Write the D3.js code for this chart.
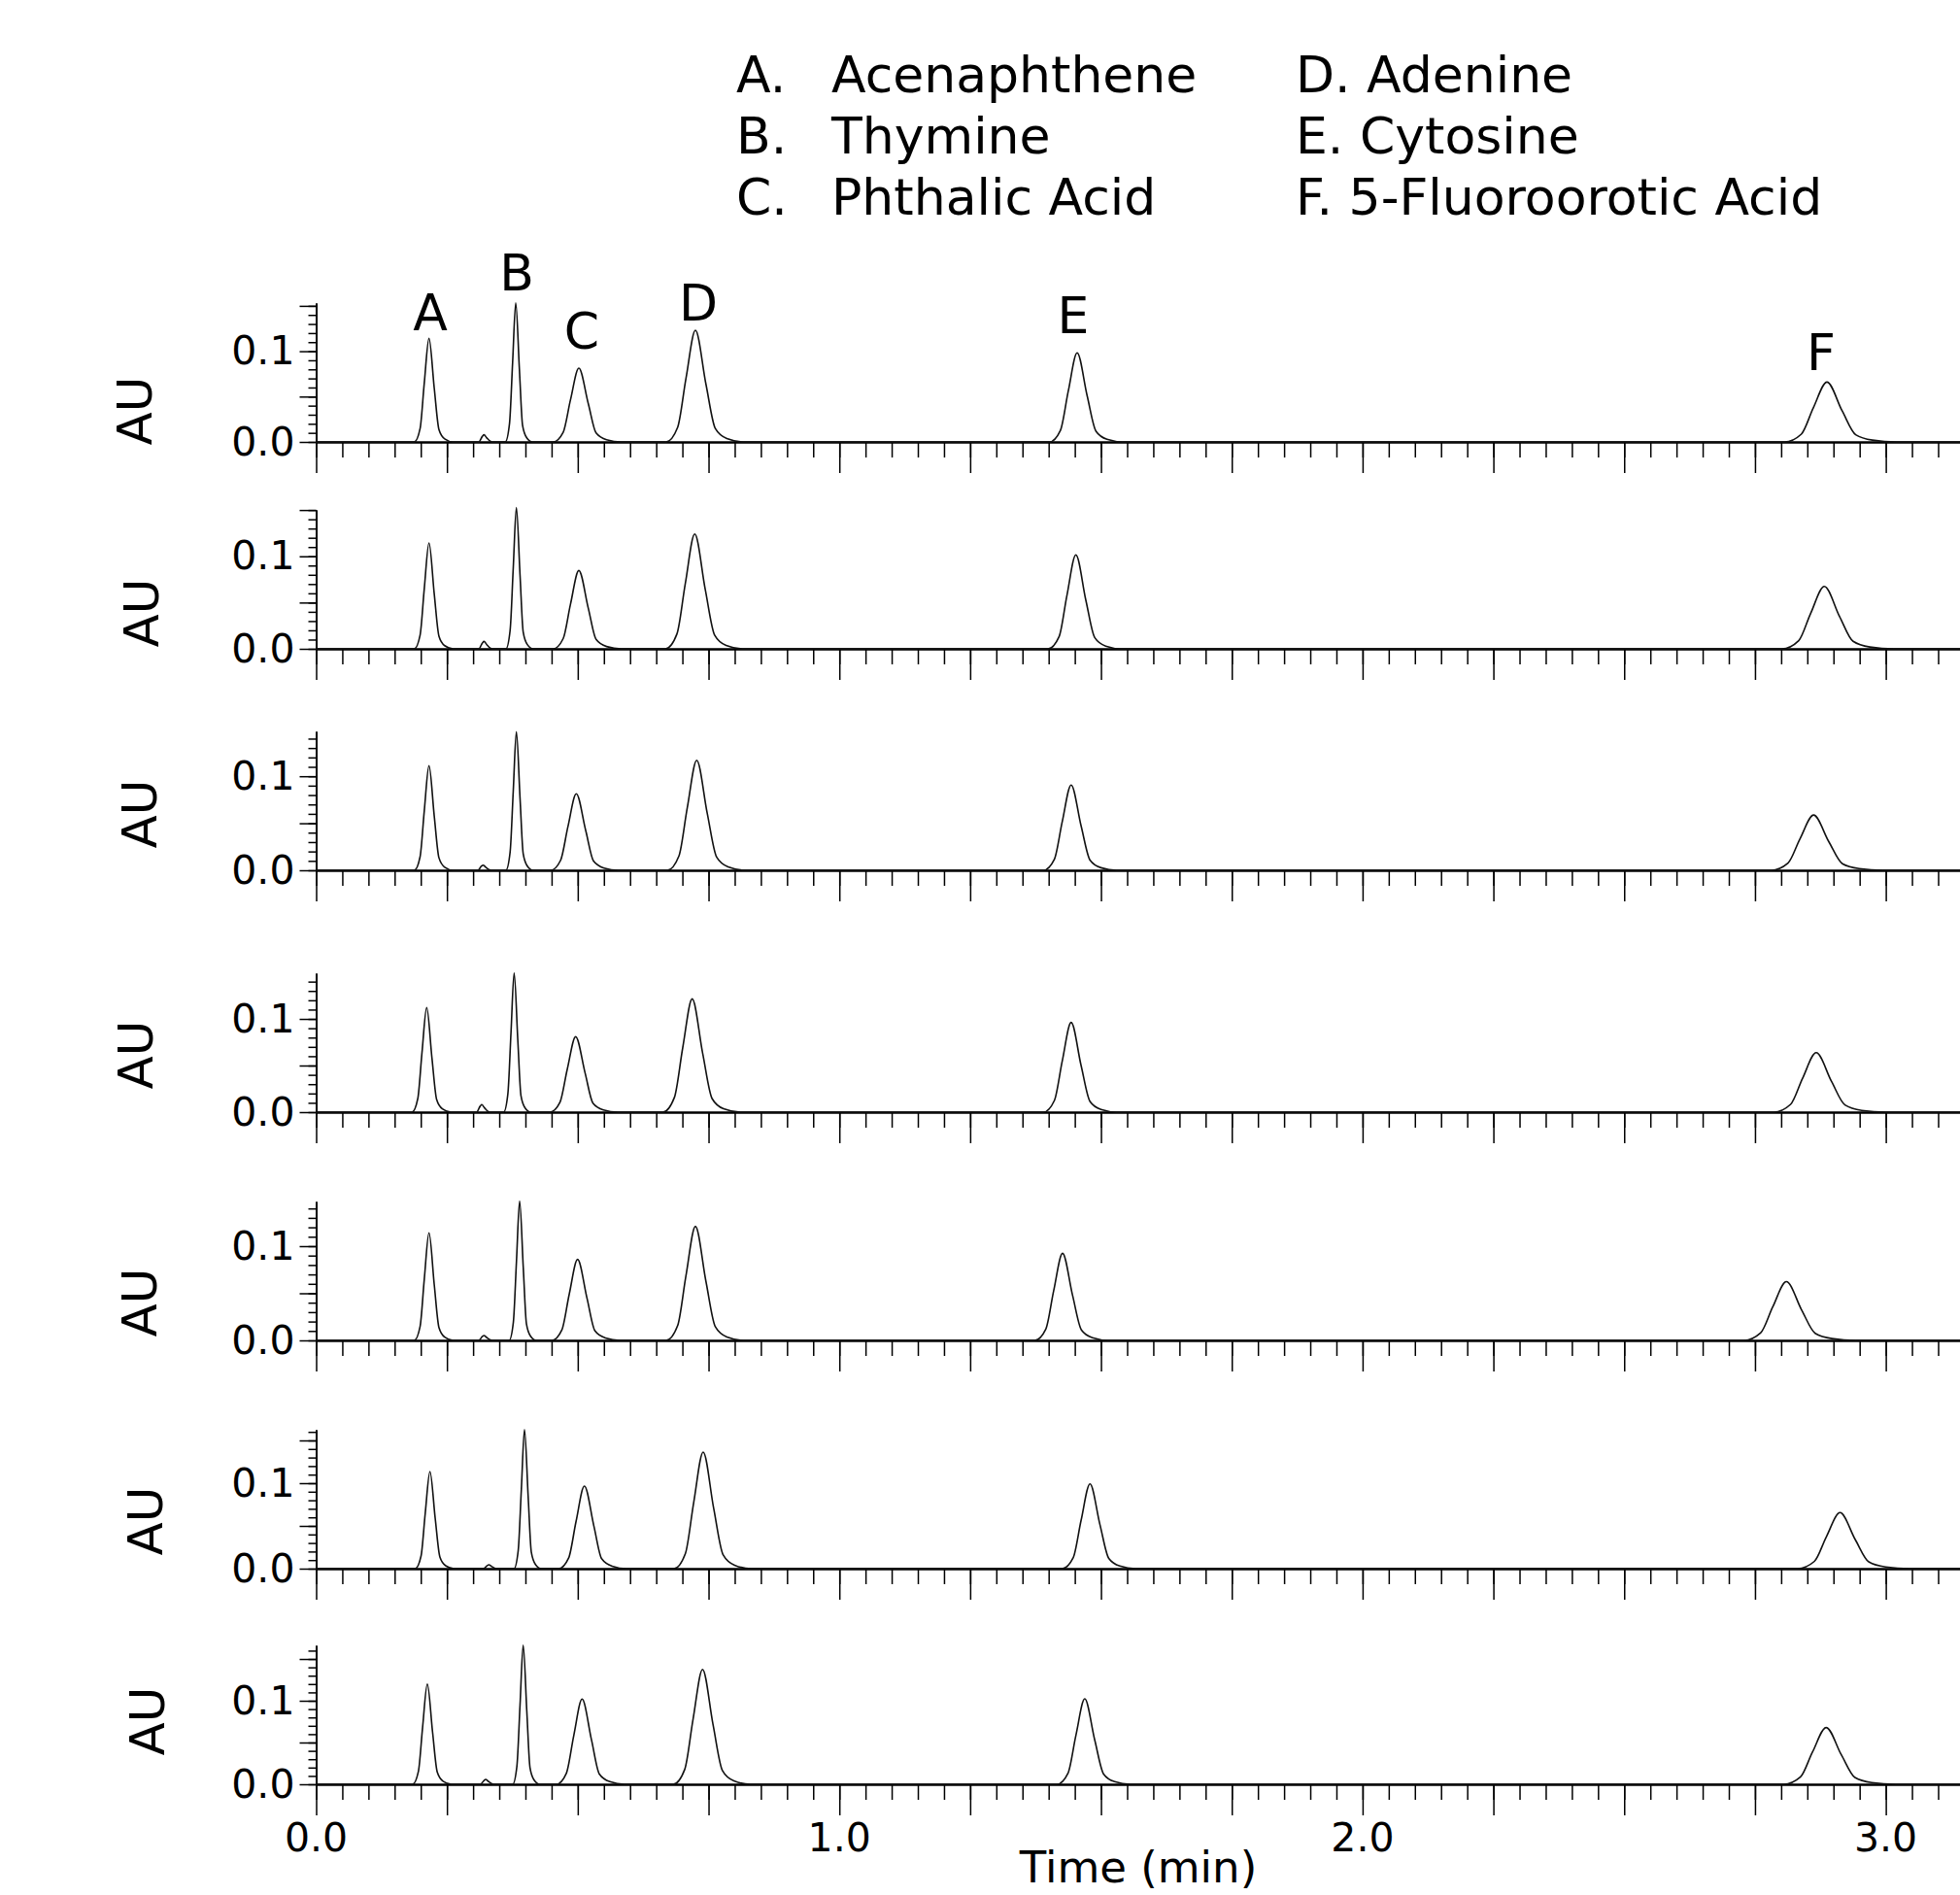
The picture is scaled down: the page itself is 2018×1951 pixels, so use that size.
<!DOCTYPE html>
<html>
<head>
<meta charset="utf-8">
<script src="https://cdn.jsdelivr.net/npm/d3@7"></script>
<style>
  body { margin: 0; background: #fff; }
  svg { display: block; font-family: 'DejaVu Sans', Verdana, sans-serif; }
</style>
</head>
<body>
<div id="container"></div>
<script>
// legend + peak letters
const peakLetters = ['A', 'B', 'C', 'D', 'E', 'F']
const compounds = ['Acenaphthene', 'Thymine', 'Phthalic Acid', 'Adenine', 'Cytosine', '5-Fluoroorotic Acid']
const labelTimes = [0.2181, 0.3833, 0.5076, 0.7305, 1.4469, 2.8762]
const timeLabels = [0, 1, 2, 3]
const auLabels = [0, 0.1]

// AU at the top end of each y axis
const yTops = [0.1531, 0.1501, 0.1477, 0.1490, 0.1474, 0.1625, 0.1663]

// chromatograms, [time (min), AU]
const trace1 = [[0, 0],
    [.1877, 0], [.1987, .0148], [.2067, .0651], [.2157, .1142], [.2257, .0594], [.2347, .0137], [.2457, .0034], [.2617, 0],
    [.3108, 0], [.3178, .0063], [.3208, .0079], [.3258, .0047], [.3318, .0012], [.3368, 0],
    [.3615, 0], [.3695, .0199], [.3755, .0874], [.3815, .1534], [.3885, .0798], [.3945, .0184], [.4025, .0046], [.4135, 0],
    [.4531, 0], [.4721, .0106], [.4861, .0464], [.5021, .0814], [.5201, .0423], [.5351, .0098], [.5551, .0024], [.5831, 0],
    [.6689, 0], [.6909, .0160], [.7069, .0702], [.7249, .1231], [.7449, .0640], [.7629, .0148], [.7849, .0037], [.8169, 0],
    [1.4015, 0], [1.4225, .0128], [1.4375, .0560], [1.4545, .0982], [1.4735, .0511], [1.4905, .0118], [1.5115, .0029], [1.5415, 0],
    [2.8065, 0], [2.8385, .0086], [2.8615, .0376], [2.8875, .0660], [2.9165, .0343], [2.9425, .0079], [2.9745, .0020], [3.0205, 0],
    [3.25, 0]]

const trace2 = [[0, 0],
    [.1877, 0], [.1987, .0149], [.2067, .0652], [.2157, .1144], [.2257, .0595], [.2347, .0137], [.2457, .0034], [.2617, 0],
    [.3108, 0], [.3178, .0064], [.3208, .0080], [.3258, .0048], [.3318, .0012], [.3368, 0],
    [.3627, 0], [.3707, .0199], [.3767, .0871], [.3827, .1528], [.3897, .0795], [.3957, .0183], [.4037, .0046], [.4147, 0],
    [.4531, 0], [.4721, .0110], [.4861, .0482], [.5021, .0846], [.5201, .0440], [.5351, .0102], [.5551, .0025], [.5831, 0],
    [.6676, 0], [.6896, .0161], [.7056, .0707], [.7236, .1241], [.7436, .0645], [.7616, .0149], [.7836, .0037], [.8156, 0],
    [1.399, 0], [1.420, .0132], [1.435, .0579], [1.452, .1015], [1.471, .0528], [1.488, .0122], [1.509, .0030], [1.539, 0],
    [2.8015, 0], [2.8335, .0088], [2.8565, .0385], [2.8825, .0675], [2.9115, .0351], [2.9375, .0081], [2.9695, .0020], [3.0155, 0],
    [3.25, 0]]

const trace3 = [[0, 0],
    [.1877, 0], [.1987, .0145], [.2067, .0634], [.2157, .1112], [.2257, .0578], [.2347, .0133], [.2457, .0033], [.2617, 0],
    [.309, 0], [.316, .0044], [.319, .0055], [.324, .0033], [.330, .0008], [.335, 0],
    [.3627, 0], [.3707, .0192], [.3767, .0840], [.3827, .1474], [.3897, .0766], [.3957, .0177], [.4037, .0044], [.4147, 0],
    [.4482, 0], [.4672, .0106], [.4812, .0463], [.4972, .0813], [.5152, .0423], [.5302, .0098], [.5502, .0024], [.5782, 0],
    [.6714, 0], [.6934, .0152], [.7094, .0667], [.7274, .1170], [.7474, .0608], [.7654, .0140], [.7874, .0035], [.8194, 0],
    [1.390, 0], [1.411, .0118], [1.426, .0517], [1.443, .0907], [1.462, .0472], [1.479, .0109], [1.500, .0027], [1.530, 0],
    [2.781, 0], [2.813, .0076], [2.836, .0335], [2.862, .0587], [2.891, .0305], [2.917, .0070], [2.949, .0018], [2.995, 0],
    [3.25, 0]]

const trace4 = [[0, 0],
    [.1833, 0], [.1943, .0146], [.2023, .0639], [.2113, .1121], [.2213, .0583], [.2303, .0135], [.2413, .0034], [.2573, 0],
    [.3065, 0], [.3135, .0064], [.3165, .0080], [.3215, .0048], [.3275, .0012], [.3325, 0],
    [.3584, 0], [.3664, .0194], [.3724, .0851], [.3784, .1493], [.3854, .0776], [.3914, .0179], [.3994, .0045], [.4104, 0],
    [.4470, 0], [.4660, .0105], [.4800, .0461], [.4960, .0809], [.5140, .0421], [.5290, .0097], [.5490, .0024], [.5770, 0],
    [.6627, 0], [.6847, .0158], [.7007, .0693], [.7187, .1215], [.7387, .0632], [.7567, .0146], [.7787, .0036], [.8107, 0],
    [1.390, 0], [1.411, .0125], [1.426, .0548], [1.443, .0962], [1.462, .0500], [1.479, .0115], [1.500, .0029], [1.530, 0],
    [2.786, 0], [2.818, .0083], [2.841, .0364], [2.867, .0638], [2.896, .0332], [2.922, .0077], [2.954, .0019], [3.000, 0],
    [3.25, 0]]

const trace5 = [[0, 0],
    [.1877, 0], [.1987, .0148], [.2067, .0650], [.2157, .1141], [.2257, .0593], [.2347, .0137], [.2457, .0034], [.2617, 0],
    [.3108, 0], [.3178, .0042], [.3208, .0052], [.3258, .0031], [.3318, .0008], [.3368, 0],
    [.3689, 0], [.3769, .0192], [.3829, .0842], [.3889, .1478], [.3959, .0769], [.4019, .0177], [.4099, .0044], [.4209, 0],
    [.4507, 0], [.4697, .0112], [.4837, .0490], [.4997, .0859], [.5177, .0447], [.5327, .0103], [.5527, .0026], [.5807, 0],
    [.6689, 0], [.6909, .0157], [.7069, .0690], [.7249, .1210], [.7449, .0629], [.7629, .0145], [.7849, .0036], [.8169, 0],
    [1.3736, 0], [1.3946, .0120], [1.4096, .0527], [1.4266, .0924], [1.4456, .0480], [1.4626, .0111], [1.4836, .0028], [1.5136, 0],
    [2.729, 0], [2.761, .0081], [2.784, .0356], [2.810, .0624], [2.839, .0324], [2.865, .0075], [2.897, .0019], [2.943, 0],
    [3.25, 0]]

const trace6 = [[0, 0],
    [.1895, 0], [.2005, .0148], [.2085, .0648], [.2175, .1136], [.2275, .0591], [.2365, .0136], [.2475, .0034], [.2635, 0],
    [.320, 0], [.327, .0036], [.330, .0045], [.335, .0027], [.341, .0007], [.346, 0],
    [.3782, 0], [.3862, .0212], [.3922, .0928], [.3982, .1628], [.4052, .0847], [.4112, .0195], [.4192, .0049], [.4302, 0],
    [.4637, 0], [.4827, .0126], [.4967, .0551], [.5127, .0966], [.5307, .0502], [.5457, .0116], [.5657, .0029], [.5937, 0],
    [.6837, 0], [.7057, .0177], [.7217, .0777], [.7397, .1364], [.7597, .0709], [.7777, .0164], [.7997, .0041], [.8317, 0],
    [1.426, 0], [1.447, .0129], [1.462, .0565], [1.479, .0992], [1.498, .0516], [1.515, .0119], [1.536, .0030], [1.566, 0],
    [2.8315, 0], [2.8635, .0085], [2.8865, .0374], [2.9125, .0656], [2.9415, .0341], [2.9675, .0079], [2.9995, .0020], [3.0455, 0],
    [3.25, 0]]

const trace7 = [[0, 0],
    [.1845, 0], [.1955, .0156], [.2035, .0685], [.2125, .1201], [.2225, .0625], [.2315, .0144], [.2425, .0036], [.2585, 0],
    [.314, 0], [.321, .0046], [.324, .0058], [.329, .0035], [.335, .0009], [.340, 0],
    [.3757, 0], [.3837, .0217], [.3897, .0950], [.3957, .1666], [.4027, .0866], [.4087, .0200], [.4167, .0050], [.4277, 0],
    [.4593, 0], [.4783, .0133], [.4923, .0581], [.5083, .1020], [.5263, .0530], [.5413, .0122], [.5613, .0031], [.5893, 0],
    [.6825, 0], [.7045, .0179], [.7205, .0784], [.7385, .1376], [.7585, .0716], [.7765, .0165], [.7985, .0041], [.8305, 0],
    [1.416, 0], [1.437, .0133], [1.452, .0583], [1.469, .1023], [1.488, .0532], [1.505, .0123], [1.526, .0031], [1.556, 0],
    [2.805, 0], [2.837, .0088], [2.860, .0387], [2.886, .0679], [2.915, .0353], [2.941, .0081], [2.973, .0020], [3.019, 0],
    [3.25, 0]]

const traces = [trace1, trace2, trace3, trace4, trace5, trace6, trace7]

// layout
const width = 2018
const height = 1951
const baselines = [455, 668, 896, 1145, 1380, 1615, 1837]
const axisLen = 143
const auPos = [[138, 423], [145, 631], [143, 838], [139, 1086], [143, 1341], [149, 1566], [151, 1772]]
const labelY = [340, 299, 359, 330, 343, 381]
const font = "'DejaVu Sans', Verdana, sans-serif"

const svg = d3.select('#container').append('svg')
    .attr('width', width).attr('height', height)

svg.append('rect').attr('width', width).attr('height', height).attr('fill', '#fff')

const xScale = d3.scaleLinear().domain([0, 3.1418]).range([325.5, 2018])

const minorX = d3.range(0, 63).map(k => k * 0.05)
const majorX = d3.range(0, 13).map(k => k * 0.25)

const styleAxis = (g, w) => {
    g.selectAll('line').attr('stroke', '#000').attr('stroke-width', w)
    g.selectAll('.domain').attr('stroke', '#000').attr('stroke-width', 2)
}

traces.forEach((trace, i) => {
    const base = baselines[i]
    const yScale = d3.scaleLinear().domain([0, yTops[i]]).range([base, base - axisLen])

    const panel = svg.append('g').attr('class', 'panel')

    // x axis: short ticks every 0.05, long every 0.25
    const xMinor = panel.append('g').attr('transform', `translate(0, ${base})`)
        .call(d3.axisBottom(xScale).tickValues(minorX).tickSize(16).tickSizeOuter(0).tickFormat(''))
    styleAxis(xMinor, 1.5)
    const xMajor = panel.append('g').attr('transform', `translate(0, ${base})`)
        .call(d3.axisBottom(xScale).tickValues(majorX).tickSize(32).tickSizeOuter(0).tickFormat(''))
    styleAxis(xMajor, 1.5)

    // y axis: short ticks every 0.01, long every 0.05
    const nMinor = Math.floor(yTops[i] * 100 + 1e-6)
    const minorY = d3.range(0, nMinor + 1).map(k => k / 100)
    const majorY = d3.range(0, Math.floor(nMinor / 5) + 1).map(k => k * 0.05)

    const yMinor = panel.append('g').attr('transform', `translate(325.5, 0)`)
        .call(d3.axisLeft(yScale).tickValues(minorY).tickSize(8).tickSizeOuter(0).tickFormat(''))
    styleAxis(yMinor, 1.5)
    const yMajor = panel.append('g').attr('transform', `translate(325.5, 0)`)
        .call(d3.axisLeft(yScale).tickValues(majorY).tickSize(17).tickSizeOuter(0).tickPadding(5)
            .tickFormat(d => auLabels.some(v => Math.abs(v - d) < 1e-9) ? d3.format('.1f')(d) : ''))
    styleAxis(yMajor, 1.5)
    yMajor.attr('font-family', font).attr('font-size', 41)
    yMajor.selectAll('text').attr('fill', '#000')

    panel.append('text')
        .attr('transform', `translate(${auPos[i][0]}, ${auPos[i][1]}) rotate(-90)`)
        .attr('text-anchor', 'middle')
        .attr('dy', '0.36em')
        .attr('font-size', 50)
        .text('AU')

    // the chromatogram
    const line = d3.line()
        .x(d => xScale(d[0]))
        .y(d => yScale(d[1]))
        .curve(d3.curveMonotoneX)

    panel.append('path')
        .datum(trace)
        .attr('fill', 'none')
        .attr('stroke', '#111')
        .attr('stroke-width', 1.6)
        .attr('d', line)
})

// time labels on the bottom panel
svg.append('g').selectAll('text')
    .data(timeLabels)
    .enter()
    .append('text')
    .attr('x', d => xScale(d))
    .attr('y', 1906)
    .attr('text-anchor', 'middle')
    .attr('font-size', 41)
    .text(d => d3.format('.1f')(d))

svg.append('text')
    .attr('x', 1172)
    .attr('y', 1938)
    .attr('text-anchor', 'middle')
    .attr('font-size', 45)
    .text('Time (min)')

// peak letters over the top trace
svg.append('g').selectAll('text')
    .data(peakLetters)
    .enter()
    .append('text')
    .attr('x', (d, i) => xScale(labelTimes[i]))
    .attr('y', (d, i) => labelY[i])
    .attr('text-anchor', 'middle')
    .attr('font-size', 52)
    .text(d => d)

// legend, two columns of three
const legend = svg.append('g').attr('font-size', 52)
compounds.forEach((name, i) => {
    const y = 95 + (i % 3) * 63
    if (i < 3) {
        legend.append('text').attr('x', 758).attr('y', y).text(peakLetters[i] + '.')
        legend.append('text').attr('x', 856).attr('y', y).text(name)
    } else {
        legend.append('text').attr('x', 1334).attr('y', y).text(peakLetters[i] + '. ' + name)
    }
})
</script>
</body>
</html>
